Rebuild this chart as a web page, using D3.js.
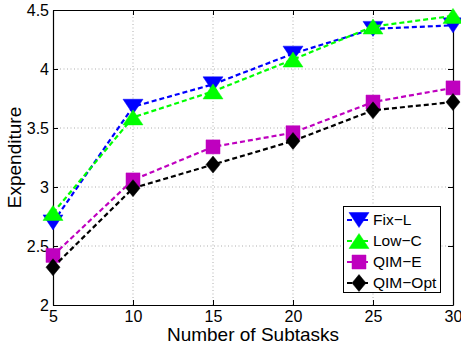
<!DOCTYPE html>
<html>
<head>
<meta charset="utf-8">
<script src="https://cdn.jsdelivr.net/npm/d3@7"></script>
<style>
  body { margin: 0; background: #fff; }
  svg { font-family: "Liberation Sans", Arial, sans-serif; }
</style>
</head>
<body>
<div id="chart"></div>
<script>
// data
const subtasks = [5, 10, 15, 20, 25, 30];
const fixL = [2.70, 3.68, 3.87, 4.13, 4.34, 4.37];
const lowC = [2.78, 3.59, 3.81, 4.08, 4.36, 4.45];
const qimE = [2.42, 3.06, 3.34, 3.46, 3.72, 3.84];
const qimOpt = [2.32, 2.99, 3.19, 3.39, 3.65, 3.72];
const xTicks = [5, 10, 15, 20, 25, 30];
const yTicks = [2, 2.5, 3, 3.5, 4, 4.5];
const seriesNames = ['Fix\u2212L', 'Low\u2212C', 'QIM\u2212E', 'QIM\u2212Opt'];

const width = 461, height = 351;
const margin = {left: 53, right: 8, top: 10, bottom: 46};

const series = [
  {name: seriesNames[0], values: fixL, color: '#0000ff', marker: 'tridown'},
  {name: seriesNames[1], values: lowC, color: '#00ff00', marker: 'triup'},
  {name: seriesNames[2], values: qimE, color: '#bf00bf', marker: 'square'},
  {name: seriesNames[3], values: qimOpt, color: '#000000', marker: 'diamond'}
];

const svg = d3.select('#chart').append('svg')
  .attr('width', width)
  .attr('height', height);

const x = d3.scaleLinear().domain([5, 30]).range([margin.left, width - margin.right]);
const y = d3.scaleLinear().domain([2, 4.5]).range([height - margin.bottom, margin.top]);

const x0 = x.range()[0], x1 = x.range()[1];
const y0 = y.range()[0], y1 = y.range()[1];

// grid
const grid = svg.append('g').attr('stroke', '#9a9a9a').attr('stroke-width', 0.8)
  .attr('stroke-dasharray', '1,2.5');
xTicks.slice(1, -1).forEach(t => {
  grid.append('line').attr('x1', x(t)).attr('x2', x(t)).attr('y1', y0).attr('y2', y1);
});
yTicks.slice(1, -1).forEach(t => {
  grid.append('line').attr('x1', x0).attr('x2', x1).attr('y1', y(t)).attr('y2', y(t));
});

// axes, ticks pointing inward
const tickLen = 5;
const bottomAxis = svg.append('g').attr('transform', `translate(0,${y0})`)
  .call(d3.axisBottom(x).tickValues(xTicks).tickSizeInner(-tickLen).tickSizeOuter(0).tickPadding(6));
const topAxis = svg.append('g').attr('transform', `translate(0,${y1})`)
  .call(d3.axisTop(x).tickValues(xTicks).tickSizeInner(-tickLen).tickSizeOuter(0).tickFormat(''));
const leftAxis = svg.append('g').attr('transform', `translate(${x0},0)`)
  .call(d3.axisLeft(y).tickValues(yTicks).tickSizeInner(-tickLen).tickSizeOuter(0).tickPadding(4)
    .tickFormat(d3.format('~g')));
const rightAxis = svg.append('g').attr('transform', `translate(${x1},0)`)
  .call(d3.axisRight(y).tickValues(yTicks).tickSizeInner(-tickLen).tickSizeOuter(0).tickFormat(''));

[bottomAxis, topAxis, leftAxis, rightAxis].forEach(a => {
  a.select('.domain').attr('stroke', '#000').attr('stroke-width', 1.2);
  a.selectAll('.tick line').attr('stroke', '#000');
  a.selectAll('text').attr('font-size', 16).attr('fill', '#000')
    .attr('font-family', '"Liberation Sans", Arial, sans-serif');
});
leftAxis.selectAll('text').attr('dy', '0.35em');

// axis titles
svg.append('text')
  .attr('x', (x0 + x1) / 2).attr('y', 341)
  .attr('text-anchor', 'middle').attr('font-size', 19)
  .text('Number of Subtasks');
svg.append('text')
  .attr('transform', `translate(21,${(y0 + y1) / 2}) rotate(-90)`)
  .attr('text-anchor', 'middle').attr('font-size', 19)
  .text('Expenditure');

// marker shapes
function markerPath(type) {
  if (type == 'tridown') return 'M-10,-7.5L10,-7.5L0,7.5Z';
  if (type == 'triup') return 'M-10,7.5L10,7.5L0,-7.5Z';
  if (type == 'square') return 'M-7,-7L7,-7L7,7L-7,7Z';
  return 'M0,-8.5L7,0L0,8.5L-7,0Z';
}

const line = d3.line().x((d, i) => x(subtasks[i])).y(d => y(d));

series.forEach(s => {
  const g = svg.append('g');
  g.append('path')
    .attr('d', line(s.values))
    .attr('fill', 'none')
    .attr('stroke', s.color)
    .attr('stroke-width', 2.2)
    .attr('stroke-dasharray', '5,3');
  g.selectAll('path.mk')
    .data(s.values)
    .enter()
    .append('path')
    .attr('class', 'mk')
    .attr('d', markerPath(s.marker))
    .attr('transform', (d, i) => `translate(${x(subtasks[i])},${y(d)})`)
    .attr('fill', s.color)
    .attr('stroke', s.color)
    .attr('stroke-width', 0.5);
});

// legend
const legend = svg.append('g');
legend.append('rect')
  .attr('x', 343.5).attr('y', 206.5).attr('width', 97).attr('height', 86)
  .attr('fill', '#fff').attr('stroke', '#000').attr('stroke-width', 1);
series.forEach((s, i) => {
  const ly = 220 + i * 21;
  legend.append('line')
    .attr('x1', 347).attr('x2', 371).attr('y1', ly).attr('y2', ly)
    .attr('stroke', s.color).attr('stroke-width', 2.2).attr('stroke-dasharray', '5,3');
  legend.append('path')
    .attr('d', markerPath(s.marker))
    .attr('transform', `translate(359,${ly})`)
    .attr('fill', s.color).attr('stroke', s.color).attr('stroke-width', 0.5);
  legend.append('text')
    .attr('x', 373).attr('y', ly).attr('dy', '0.35em')
    .attr('font-size', 15.5)
    .text(s.name);
});
</script>
</body>
</html>
